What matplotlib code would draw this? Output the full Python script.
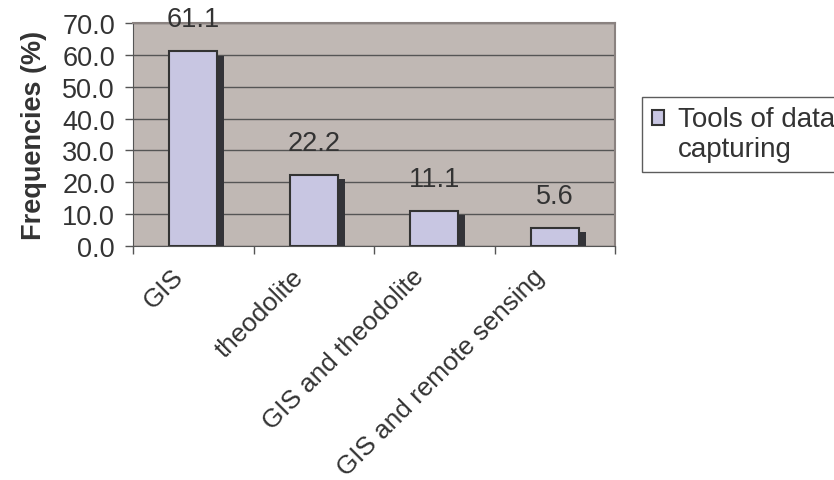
import matplotlib.pyplot as plt
import matplotlib.patheffects as pe
from matplotlib.container import BarContainer
from matplotlib.legend_handler import HandlerPatch, update_from_first_child
from matplotlib.transforms import ScaledTranslation

categories = ['GIS', 'theodolite', 'GIS and theodolite', 'GIS and remote sensing']
values = [61.1, 22.2, 11.1, 5.6]
series_name = 'Tools of data\ncapturing'

plt.rcParams['font.family'] = ['Liberation Sans', 'DejaVu Sans']
text_color = '#333333'


class RaisedHandler(HandlerPatch):
    # put the legend square beside the first line of the label
    def create_artists(self, legend, orig_handle, xdescent, ydescent,
                       width, height, fontsize, trans):
        return super().create_artists(legend, orig_handle, xdescent, ydescent - 12,
                                      width, height, fontsize, trans)


fig = plt.figure(figsize=(8.34, 4.81), dpi=100)
ax = fig.add_axes([133 / 834, 1 - 247 / 481, (615 - 133) / 834, (247 - 24) / 481])
ax.set_facecolor('#c0b8b4')

x = list(range(len(categories)))
bars = ax.bar(x, values, width=0.4, color='#c8c6e2', edgecolor='#333333',
              linewidth=1.5, zorder=3, label=series_name)
for b in bars:
    b.set_path_effects([pe.SimplePatchShadow(offset=(5, -3), shadow_rgbFace='#333338', alpha=1.0),
                        pe.Normal()])

for xi, v in zip(x, values):
    ax.annotate(f'{v:.1f}', (xi, v), xytext=(0, 23), textcoords='offset points',
                ha='center', va='center', fontsize=19.5, color=text_color, zorder=4)

ax.set_ylim(0, 70)
ax.set_xlim(-0.5, len(categories) - 0.5)
ax.set_yticks(range(0, 71, 10))
ax.set_yticklabels([f'{t:.1f}' for t in range(0, 71, 10)], fontsize=19.5, color=text_color)
ax.yaxis.grid(True, color='#555555', linewidth=1)
ax.set_axisbelow(True)

ax.set_xticks(x)
ax.set_xticklabels(categories, rotation=45, ha='right', va='top', rotation_mode='anchor',
                   fontsize=18.8, color=text_color)
ax.tick_params(axis='x', which='major', length=0, pad=13)
ax.set_xticks([i - 0.5 for i in range(len(categories) + 1)], minor=True)
ax.tick_params(axis='x', which='minor', length=6, color='#555555', width=1)
ax.tick_params(axis='y', length=6, color='#555555', width=1, pad=7)

# nudge the slanted labels to the left (after tick_params, which resets transforms)
shift = ScaledTranslation(-16 / 72, 0, fig.dpi_scale_trans)
for lab in ax.get_xticklabels():
    lab.set_transform(lab.get_transform() + shift)

for s in ['left', 'bottom']:
    ax.spines[s].set_color('#555555')
for s in ['top', 'right']:
    ax.spines[s].set_color('#8a8280')
    ax.spines[s].set_linewidth(1.5)

ax.set_ylabel('Frequencies (%)', fontsize=19.5, fontweight='bold', color=text_color, labelpad=11)

leg = ax.legend(loc='lower left', bbox_to_anchor=(642 / 834, 1 - 173 / 481),
                bbox_transform=fig.transFigure, fontsize=20, frameon=True, fancybox=False,
                handlelength=0.45, handleheight=0.45, handletextpad=0.5, borderaxespad=0,
                borderpad=0.35, labelcolor=text_color,
                handler_map={BarContainer: RaisedHandler(update_func=update_from_first_child)})
leg.get_frame().set_edgecolor('#333333')
leg.get_frame().set_linewidth(1)
for h in leg.legend_handles:
    h.set_path_effects([])

fig.savefig('out.png', dpi=100)
